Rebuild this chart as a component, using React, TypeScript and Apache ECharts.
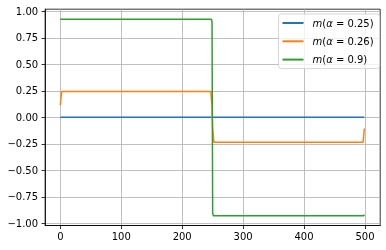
import React, { useEffect, useRef } from "react";
import * as echarts from "echarts";

const seriesNames = ["m(α = 0.25)", "m(α = 0.26)", "m(α = 0.9)"];
const seriesColors = ["#1f77b4", "#ff7f0e", "#2ca02c"];

// [x, m] key points
const blueData: [number, number][] = [
  [0, 0],
  [499, 0],
];
const orangeData: [number, number][] = [
  [0, 0.115],
  [2, 0.243],
  [247, 0.243],
  [249, 0.1],
  [250, -0.1],
  [252, -0.235],
  [497, -0.235],
  [499, -0.105],
];
const greenData: [number, number][] = [
  [0, 0.927],
  [248, 0.927],
  [249, 0.9],
  [250, -0.9],
  [251, -0.928],
  [498, -0.928],
  [499, -0.918],
];

const xTicks = [0, 100, 200, 300, 400, 500];
const yTicks = [-1, -0.75, -0.5, -0.25, 0, 0.25, 0.5, 0.75, 1];

const FONT = "DejaVu Sans";

export default function App() {
  const ref = useRef<HTMLDivElement>(null);
  useEffect(() => {
    if (!ref.current) return;
    const chart = echarts.init(ref.current, undefined, { renderer: "svg" });
    const dataSets = [blueData, orangeData, greenData];
    chart.setOption({
      animation: false,
      grid: {
        left: 45.1,
        right: 5.8,
        top: 9.2,
        bottom: 24.5,
        show: true,
        borderColor: "#000",
        borderWidth: 0.8,
        backgroundColor: "transparent",
      },
      legend: {
        orient: "vertical",
        left: 278.5,
        top: 14,
        icon: "rect",
        itemWidth: 21,
        itemHeight: 2,
        itemGap: 6.3,
        padding: [3, 6, 3, 4],
        backgroundColor: "rgba(255,255,255,0.8)",
        borderColor: "#cccccc",
        borderWidth: 0.8,
        borderRadius: 3,
        data: seriesNames,
        formatter: (name: string) => {
          const v = name.replace("m(α = ", "").replace(")", "");
          return "{it|m}({it|α} = " + v + ")";
        },
        textStyle: {
          fontFamily: FONT,
          fontSize: 10,
          color: "#000",
          lineHeight: 12,
          padding: [0, 0, 0, 4],
          rich: {
            it: { fontFamily: FONT, fontSize: 10, fontStyle: "italic", color: "#000" },
          },
        },
      },
      xAxis: {
        type: "value",
        min: -25,
        max: 525,
        axisLine: { show: true, onZero: false, lineStyle: { color: "#000", width: 0.8 } },
        axisTick: { show: true, length: 3.5, customValues: xTicks, lineStyle: { color: "#000", width: 0.8 } },
        axisLabel: {
          show: true,
          customValues: xTicks,
          margin: 6,
          fontFamily: FONT,
          fontSize: 10,
          color: "#000",
          formatter: (v: number) => String(v),
        },
        splitLine: { show: true, lineStyle: { color: "#b0b0b0", width: 0.8 } },
      },
      yAxis: {
        type: "value",
        min: -1.021,
        max: 1.021,
        axisLine: { show: true, onZero: false, lineStyle: { color: "#000", width: 0.8 } },
        axisTick: { show: true, length: 3.5, customValues: yTicks, lineStyle: { color: "#000", width: 0.8 } },
        axisLabel: {
          show: true,
          customValues: yTicks,
          margin: 7,
          fontFamily: FONT,
          fontSize: 10,
          color: "#000",
          formatter: (v: number) => v.toFixed(2).replace("-", "\u2212"),
        },
        splitLine: { show: true, lineStyle: { color: "#b0b0b0", width: 0.8 } },
      },
      series: seriesNames.map((name, i) => ({
        name,
        type: "line",
        data: dataSets[i],
        symbol: "none",
        color: seriesColors[i],
        lineStyle: { color: seriesColors[i], width: 1.5 },
        itemStyle: { color: seriesColors[i] },
      })),
    });
    return () => chart.dispose();
  }, []);
  return (
    <div
      ref={ref}
      style={{ position: "fixed", left: 0, top: 0, width: 386, height: 250 }}
    />
  );
}
